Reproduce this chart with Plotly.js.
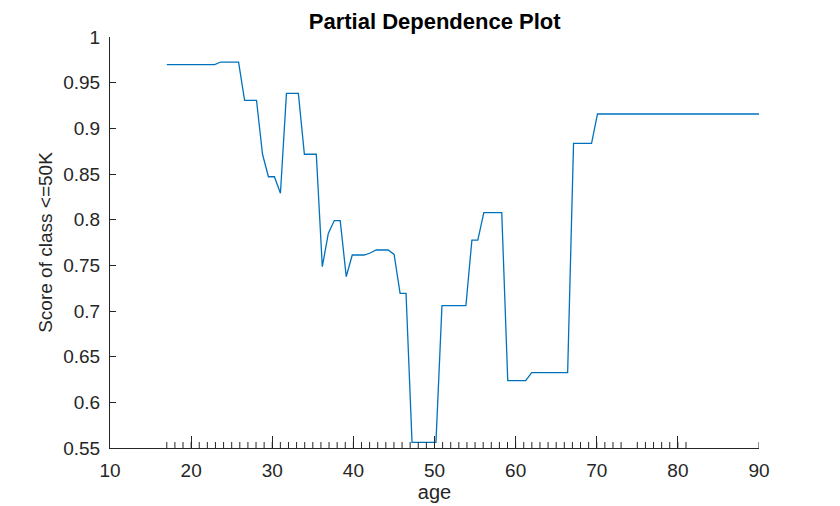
<!DOCTYPE html>
<html>
<head>
<meta charset="utf-8">
<script src="https://cdn.plot.ly/plotly-3.0.1.min.js"></script>
<style>
    html, body { margin: 0; padding: 0; background: #fff; }
    #plot { width: 840px; height: 506px; }
</style>
</head>
<body>
<div id="plot"></div>
<script>
// partial dependence curve (age grid points and score)
const ageGrid = [17.00, 22.90, 23.64, 25.85, 26.59, 28.06, 28.80, 29.53, 30.27, 31.01,
                 31.75, 33.22, 33.96, 35.43, 36.17, 36.91, 37.65, 38.38, 39.12, 39.86,
                 41.33, 42.07, 42.81, 44.28, 45.02, 45.76, 46.49, 47.23, 50.18, 50.92,
                 53.87, 54.61, 55.34, 56.08, 58.29, 59.03, 61.24, 61.98, 66.41, 67.14,
                 69.36, 70.09, 90.00];
const scoreValues = [0.9697, 0.9697, 0.9726, 0.9726, 0.9307, 0.9307, 0.8716, 0.8470, 0.8470, 0.8290,
                     0.9383, 0.9383, 0.8716, 0.8716, 0.7485, 0.7850, 0.7990, 0.7990, 0.7376, 0.7613,
                     0.7613, 0.7635, 0.7668, 0.7668, 0.7620, 0.7194, 0.7194, 0.5562, 0.5562, 0.7058,
                     0.7058, 0.7777, 0.7777, 0.8077, 0.8077, 0.6237, 0.6237, 0.6325, 0.6325, 0.8836,
                     0.8836, 0.9157, 0.9157];

// ages seen in the data (rug marks along the x axis)
const rugAges = [];
for (let a = 17; a <= 81; a++) {
    if (a != 74) rugAges.push(a);
}
rugAges.push(90);

// tick labels
const xTickVals = [10, 20, 30, 40, 50, 60, 70, 80, 90];
const yTickVals = [0.55, 0.6, 0.65, 0.7, 0.75, 0.8, 0.85, 0.9, 0.95, 1];
const yTickText = ["0.55", "0.6", "0.65", "0.7", "0.75", "0.8", "0.85", "0.9", "0.95", "1"];

const axisColor = "#262626";
const font = "Liberation Sans, Arial, Helvetica, sans-serif";

const curve = {
    x: ageGrid,
    y: scoreValues,
    mode: "lines",
    line: { color: "#0072BD", width: 1.3 },
    hoverinfo: "x+y"
};

// small inward ticks for each rug age
const rugShapes = rugAges.map(a => ({
    type: "line",
    xref: "x",
    yref: "y domain",
    x0: a, x1: a,
    y0: 0, y1: 6 / 411,
    line: { color: axisColor, width: 1 },
    layer: "above"
}));

const layout = {
    width: 840,
    height: 506,
    margin: { l: 110, r: 81, t: 37, b: 58 },
    paper_bgcolor: "#fff",
    plot_bgcolor: "#fff",
    showlegend: false,
    font: { family: font, size: 19, color: axisColor },
    title: {
        text: "<b>Partial Dependence Plot</b>",
        font: { family: font, size: 22, color: "#000" },
        x: 0.5175, xanchor: "center",
        y: 0.957, yanchor: "middle", yref: "container"
    },
    xaxis: {
        range: [10, 90],
        tickvals: xTickVals,
        ticks: "inside",
        ticklen: 12,
        tickwidth: 1,
        tickcolor: axisColor,
        showline: true,
        linecolor: axisColor,
        linewidth: 1,
        showgrid: false,
        zeroline: false,
        ticklabelstandoff: 5,
        title: { text: "age", font: { family: font, size: 20, color: axisColor }, standoff: 2 }
    },
    yaxis: {
        range: [0.55, 1],
        tickvals: yTickVals,
        ticktext: yTickText,
        ticks: "inside",
        ticklen: 6,
        tickwidth: 1,
        tickcolor: axisColor,
        showline: true,
        linecolor: axisColor,
        linewidth: 1,
        showgrid: false,
        zeroline: false,
        ticklabelstandoff: 5,
        title: { text: "Score of class <=50K", font: { family: font, size: 19, color: axisColor }, standoff: 5 }
    },
    shapes: rugShapes
};

Plotly.newPlot("plot", [curve], layout, { displayModeBar: false, staticPlot: true });
</script>
</body>
</html>
